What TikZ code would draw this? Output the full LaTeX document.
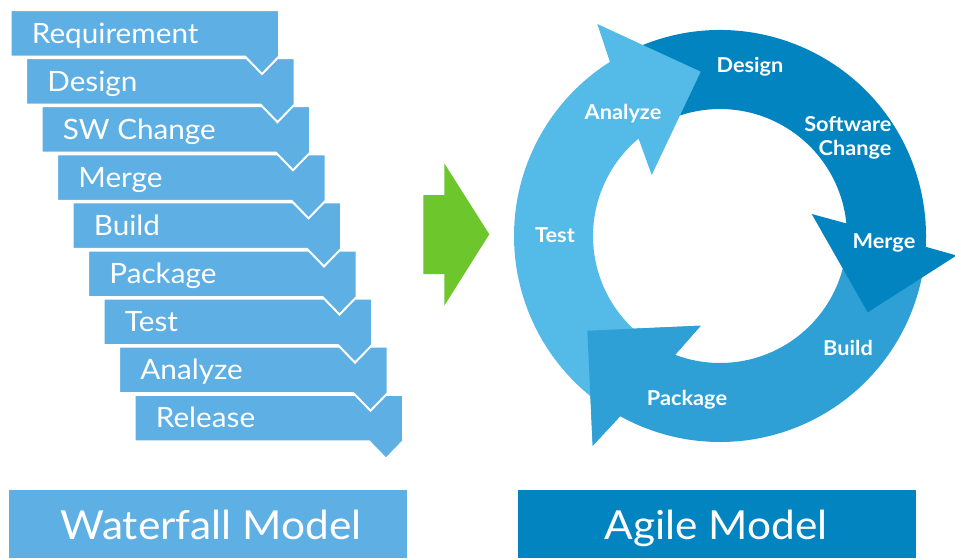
\documentclass[tikz,border=0pt]{standalone}
\usepackage{fontspec}
\setmainfont{Lato}[FakeStretch=1.06]
\definecolor{wf}{RGB}{93,175,228}
\definecolor{greenar}{RGB}{108,198,44}
\definecolor{agile}{RGB}{2,132,192}
\definecolor{lightar}{RGB}{84,187,233}
\definecolor{midar}{RGB}{46,160,214}
\definecolor{darkar}{RGB}{2,132,192}
\begin{document}
\begin{tikzpicture}[x=1pt,y=1pt,
  stepshape/.style={fill=wf, draw=white, line width=2pt, line join=miter},
  steptext/.style={text=white, font=\fontsize{28}{30}\selectfont, anchor=base west, inner sep=0pt},
  ringlabel/.style={text=white, font=\bfseries\fontsize{20.5}{22}\selectfont, anchor=base, inner sep=0pt},
  titletext/.style={text=white, font=\fontsize{40}{44}\selectfont, anchor=base, inner sep=0pt}]
\useasboundingbox (0,0) rectangle (955,-558);
% waterfall steps, drawn bottom first
\foreach \t [count=\k from 0] in {Release,Analyze,Test,Package,Build,Merge,SW Change,Design,Requirement}{
  \pgfmathsetmacro{\xa}{10.7+15.5*(8-\k)}
  \pgfmathsetmacro{\xb}{\xa+268.3}
  \pgfmathsetmacro{\ya}{-(10+48.1*(8-\k))}
  \pgfmathsetmacro{\yb}{\ya-46.5}
  \path[stepshape] (\xa,\ya) -- (\xb,\ya) -- (\xb,\yb) -- (\xb-17,\yb-17.5) -- (\xb-34,\yb) -- (\xa,\yb) -- cycle;
  \node[steptext] (step\k) at (\xa+21,\ya-33) {\t};
}
% green arrow
\fill[greenar] (423.3,-195) -- (444.3,-195) -- (444.3,-163.3) -- (489.3,-234.3) -- (444.3,-305.7) -- (444.3,-274) -- (423.3,-274) -- cycle;
% agile ring
\begin{scope}[shift={(720,-236)}]
  % mid arrow (Build -> Package)
  \fill[midar] (350:206) arc[start angle=350, end angle=241, radius=206]
    -- (-127.3,-209.7) -- (-132.7,-94.7) -- (-19.3,-89.7) -- (249.3:127)
    arc[start angle=249.3, end angle=350, radius=127] -- cycle;
  % dark arrow (Design -> Merge)
  \fill[darkar] (115:206) arc[start angle=115, end angle=-3, radius=206]
    -- (236.5,-19.5) -- (147.7,-76.3) -- (91.7,22) -- (5.7:127)
    arc[start angle=5.7, end angle=115, radius=127] -- cycle;
  % light arrow (Test -> Analyze)
  \fill[lightar] (236:206) arc[start angle=236, end angle=122.3, radius=206]
    -- (-122.7,212) -- (-19.3,164.3) -- (-68.3,61) -- (129.9:127)
    arc[start angle=129.9, end angle=236, radius=127] -- cycle;
  % mid arrow head again, on top
  \fill[midar] (241:206) -- (-127.3,-209.7) -- (-132.7,-94.7) -- (-19.3,-89.7) -- (249.3:127) -- cycle;
\end{scope}
% ring labels
\node[ringlabel] (lDesign) at (750,-72) {Design};
\node[ringlabel, anchor=base east] (lSoft) at (891.7,-131.7) {Software};
\node[ringlabel, anchor=base east] (lChange) at (891.7,-155) {Change};
\node[ringlabel] (lMerge) at (884,-248.3) {Merge};
\node[ringlabel] (lBuild) at (848,-355) {Build};
\node[ringlabel] (lPackage) at (687,-405) {Package};
\node[ringlabel] (lTest) at (555,-242.3) {Test};
\node[ringlabel] (lAnalyze) at (623,-119.3) {Analyze};
% bottom titles
\fill[wf] (9,-490) rectangle (406.7,-558);
\node[titletext] (wftitle) at (211,-539) {Waterfall Model};
\fill[agile] (517.7,-490) rectangle (916,-558);
\node[titletext] (agtitle) at (716,-539) {Agile Model};
\end{tikzpicture}
\end{document}
